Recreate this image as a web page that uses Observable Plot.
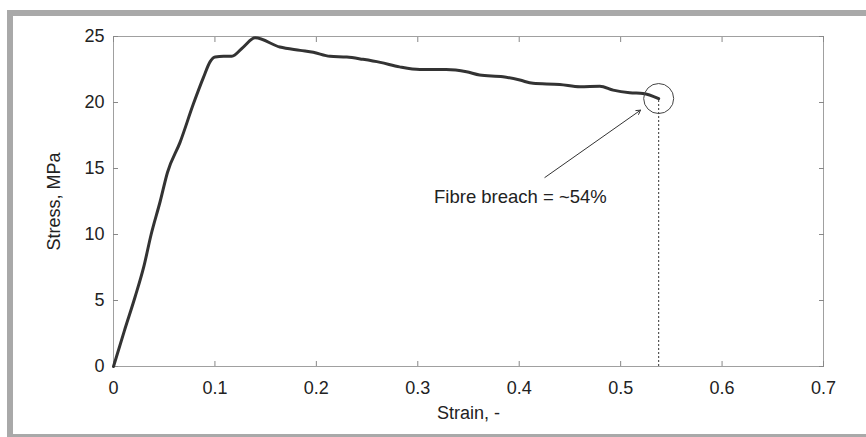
<!DOCTYPE html>
<html>
<head>
<meta charset="utf-8">
<script src="https://cdn.jsdelivr.net/npm/d3@7"></script>
<script src="https://cdn.jsdelivr.net/npm/@observablehq/plot@0.6"></script>
<style>
  html, body { margin: 0; padding: 0; background: #fff; }
  body { width: 866px; height: 437px; position: relative; overflow: hidden; font-family: "Liberation Sans", Arial, sans-serif; }
  #border { position: absolute; left: 7px; top: 10px; width: 900px; height: 418px; border: 6px solid #a9a9a9; border-right: none; box-sizing: content-box; }
  #chart { position: absolute; left: 0; top: 0; }
</style>
</head>
<body>
<div id="border"></div>
<div id="chart"></div>
<script>
// Stress–strain curve
const strain = [0, 0.0107, 0.0214, 0.030, 0.0371, 0.046, 0.0532, 0.0657, 0.0788, 0.0887, 0.0953, 0.1002, 0.1085, 0.1166, 0.128, 0.1396,
  0.164, 0.184, 0.197, 0.2135, 0.23, 0.246, 0.263, 0.282, 0.302, 0.328, 0.348, 0.361, 0.384, 0.4006, 0.4137, 0.44, 0.46, 0.4795, 0.4926, 0.509, 0.522, 0.5375];
const stress = [0, 2.7, 5.3, 7.6, 10.0, 12.5, 14.7, 17.0, 19.9, 21.9, 23.1, 23.45, 23.5, 23.5, 24.2, 24.9,
  24.2, 23.95, 23.8, 23.5, 23.45, 23.27, 23.04, 22.7, 22.5, 22.5, 22.33, 22.08, 21.95, 21.7, 21.45, 21.37, 21.2, 21.24, 20.94, 20.74, 20.69, 20.3];

const xTicks = [0, 0.1, 0.2, 0.3, 0.4, 0.5, 0.6, 0.7];
const xTickLabels = ["0", "0.1", "0.2", "0.3", "0.4", "0.5", "0.6", "0.7"];
const yTicks = [0, 5, 10, 15, 20, 25];
const yTickLabels = ["0", "5", "10", "15", "20", "25"];

const annotationText = ["Fibre breach = ~54%"];
const annotationPos = [{x: 0.4012, y: 12.86}];
const arrowFrom = [{x: 0.4253, y: 14.32}];
const arrowTo = [{x: 0.5196, y: 19.42}];

const data = strain.map((s, i) => ({strain: s, stress: stress[i]}));
const last = data[data.length - 1];

const tickFmtX = d => xTickLabels[xTicks.indexOf(d)];
const tickFmtY = d => yTickLabels[yTicks.indexOf(d)];

const chart = Plot.plot({
  width: 866,
  height: 437,
  marginLeft: 113,
  marginRight: 43,
  marginTop: 36,
  marginBottom: 71,
  style: {fontFamily: '"Liberation Sans", Arial, sans-serif', fontSize: "18px", color: "#222", background: "transparent"},
  x: {domain: [0, 0.7]},
  y: {domain: [0, 25]},
  marks: [
    Plot.frame({stroke: "#a0a0a0"}),
    // inward tick marks on all four sides
    Plot.axisX(xTicks, {anchor: "bottom", tickSize: -5, text: null, label: null, stroke: "#888"}),
    Plot.axisX(xTicks, {anchor: "top", tickSize: -5, text: null, label: null, stroke: "#888"}),
    Plot.axisY(yTicks, {anchor: "left", tickSize: -5, text: null, label: null, stroke: "#888"}),
    Plot.axisY(yTicks, {anchor: "right", tickSize: -5, text: null, label: null, stroke: "#888"}),
    // tick labels
    Plot.axisX(xTicks, {anchor: "bottom", tickSize: 0, tickPadding: 15, tickFormat: tickFmtX, fontSize: 18, fill: "#222",
      label: "Strain, -", labelAnchor: "center", labelArrow: "none", labelOffset: 52}),
    Plot.axisY(yTicks, {anchor: "left", tickSize: 0, tickPadding: 9, tickFormat: tickFmtY, fontSize: 18, fill: "#222",
      label: "Stress, MPa", labelAnchor: "center", labelArrow: "none", labelOffset: 66}),
    // dotted vertical line at breach
    Plot.ruleX([last], {x: "strain", y1: 0, y2: "stress", stroke: "#333", strokeDasharray: "2,2", strokeWidth: 1}),
    // curve
    Plot.line(data, {x: "strain", y: "stress", stroke: "#333", strokeWidth: 3, curve: "monotone-x"}),
    // circle
    Plot.dot([last], {x: "strain", y: "stress", r: 15, stroke: "#444", strokeWidth: 1, fill: "none"}),
    // arrow
    Plot.arrow([0], {x1: () => arrowFrom[0].x, y1: () => arrowFrom[0].y, x2: () => arrowTo[0].x, y2: () => arrowTo[0].y,
      stroke: "#333", strokeWidth: 1, headLength: 7}),
    Plot.text(annotationText, {x: annotationPos[0].x, y: annotationPos[0].y, text: d => d, fontSize: 18.5, fill: "#222"})
  ]
});
document.getElementById("chart").appendChild(chart);
</script>
</body>
</html>
